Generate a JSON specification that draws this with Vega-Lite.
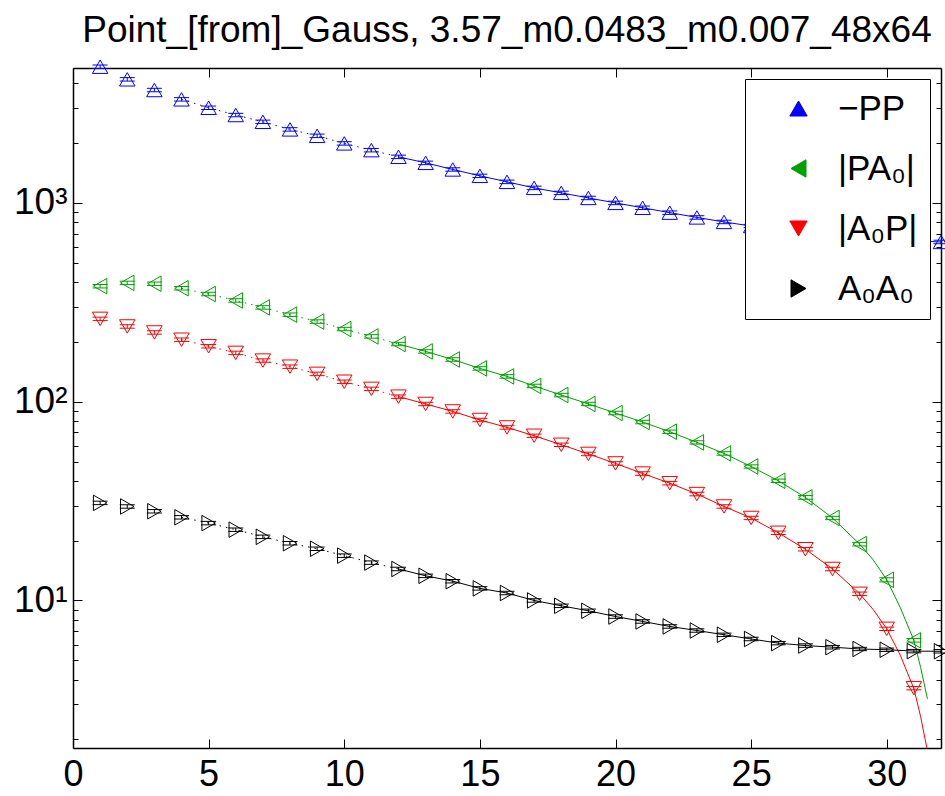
{
  "$schema": "https://vega.github.io/schema/vega-lite/v6.json",
  "width": 868,
  "height": 680,
  "autosize": {"type": "none"},
  "padding": {"left": 73, "top": 68, "right": 4, "bottom": 48},
  "title": {"text": "Point_[from]_Gauss, 3.57_m0.0483_m0.007_48x64", "fontSize": 37, "font": "Liberation Sans", "fontWeight": "normal", "anchor": "middle", "offset": 8, "color": "black"},
  "config": {
    "view": {"stroke": null},
    "font": "Liberation Sans",
    "legend": {
      "orient": "none", "legendX": 672, "legendY": 11, "direction": "vertical",
      "fillColor": "white", "strokeColor": "black", "padding": 12,
      "symbolOffset": 24, "labelOffset": 22, "labelFontSize": 35, "labelFont": "Liberation Sans",
      "labelColor": "black", "symbolSize": 300, "symbolStrokeWidth": 1, "symbolFillColor": "transparent",
      "rowPadding": 24, "title": null, "labelLimit": 400
    }
  },
  "datasets": {
    "pts": [
      {"s": "−PP", "x": 1, "y": 4842, "e": 97}, {"s": "−PP", "x": 2, "y": 4185, "e": 84}, {"s": "−PP", "x": 3, "y": 3697, "e": 74}, {"s": "−PP", "x": 4, "y": 3319, "e": 66},
      {"s": "−PP", "x": 5, "y": 3010, "e": 60}, {"s": "−PP", "x": 6, "y": 2767, "e": 55}, {"s": "−PP", "x": 7, "y": 2558, "e": 51}, {"s": "−PP", "x": 8, "y": 2343, "e": 47},
      {"s": "−PP", "x": 9, "y": 2175, "e": 44}, {"s": "−PP", "x": 10, "y": 1992, "e": 40}, {"s": "−PP", "x": 11, "y": 1842, "e": 37}, {"s": "−PP", "x": 12, "y": 1705, "e": 34},
      {"s": "−PP", "x": 13, "y": 1590, "e": 32}, {"s": "−PP", "x": 14, "y": 1473, "e": 29}, {"s": "−PP", "x": 15, "y": 1368, "e": 27}, {"s": "−PP", "x": 16, "y": 1276, "e": 26},
      {"s": "−PP", "x": 17, "y": 1190, "e": 24}, {"s": "−PP", "x": 18, "y": 1123, "e": 22}, {"s": "−PP", "x": 19, "y": 1059, "e": 21}, {"s": "−PP", "x": 20, "y": 1000, "e": 20},
      {"s": "−PP", "x": 21, "y": 945, "e": 19}, {"s": "−PP", "x": 22, "y": 893, "e": 18}, {"s": "−PP", "x": 23, "y": 845, "e": 17}, {"s": "−PP", "x": 24, "y": 802, "e": 16},
      {"s": "−PP", "x": 25, "y": 765, "e": 15}, {"s": "−PP", "x": 26, "y": 733, "e": 15}, {"s": "−PP", "x": 27, "y": 706, "e": 14}, {"s": "−PP", "x": 28, "y": 684, "e": 14},
      {"s": "−PP", "x": 29, "y": 667, "e": 13}, {"s": "−PP", "x": 30, "y": 654, "e": 13}, {"s": "−PP", "x": 31, "y": 644, "e": 13}, {"s": "−PP", "x": 32, "y": 636, "e": 13},
      {"s": "|PA₀|", "x": 1, "y": 381, "e": 7.6}, {"s": "|PA₀|", "x": 2, "y": 396, "e": 7.9}, {"s": "|PA₀|", "x": 3, "y": 392, "e": 7.8}, {"s": "|PA₀|", "x": 4, "y": 372, "e": 7.4},
      {"s": "|PA₀|", "x": 5, "y": 348, "e": 7.0}, {"s": "|PA₀|", "x": 6, "y": 323, "e": 6.5}, {"s": "|PA₀|", "x": 7, "y": 298, "e": 6.0}, {"s": "|PA₀|", "x": 8, "y": 274, "e": 5.5},
      {"s": "|PA₀|", "x": 9, "y": 253, "e": 5.1}, {"s": "|PA₀|", "x": 10, "y": 232, "e": 4.6}, {"s": "|PA₀|", "x": 11, "y": 213, "e": 4.3}, {"s": "|PA₀|", "x": 12, "y": 195, "e": 3.9},
      {"s": "|PA₀|", "x": 13, "y": 179, "e": 3.6}, {"s": "|PA₀|", "x": 14, "y": 163, "e": 3.3}, {"s": "|PA₀|", "x": 15, "y": 147, "e": 2.9}, {"s": "|PA₀|", "x": 16, "y": 134, "e": 2.7},
      {"s": "|PA₀|", "x": 17, "y": 120, "e": 2.4}, {"s": "|PA₀|", "x": 18, "y": 108, "e": 2.2}, {"s": "|PA₀|", "x": 19, "y": 97.4, "e": 1.9}, {"s": "|PA₀|", "x": 20, "y": 87.7, "e": 1.8},
      {"s": "|PA₀|", "x": 21, "y": 79, "e": 1.6}, {"s": "|PA₀|", "x": 22, "y": 70.6, "e": 1.4}, {"s": "|PA₀|", "x": 23, "y": 62.4, "e": 1.2}, {"s": "|PA₀|", "x": 24, "y": 54.9, "e": 1.1},
      {"s": "|PA₀|", "x": 25, "y": 47.2, "e": 0.9}, {"s": "|PA₀|", "x": 26, "y": 40, "e": 0.8}, {"s": "|PA₀|", "x": 27, "y": 33, "e": 0.7}, {"s": "|PA₀|", "x": 28, "y": 26, "e": 0.5},
      {"s": "|PA₀|", "x": 29, "y": 19.2, "e": 0.4}, {"s": "|PA₀|", "x": 30, "y": 12.7, "e": 0.3}, {"s": "|PA₀|", "x": 31, "y": 6.3, "e": 0.13},
      {"s": "|A₀P|", "x": 1, "y": 261, "e": 5.2}, {"s": "|A₀P|", "x": 2, "y": 239, "e": 4.8}, {"s": "|A₀P|", "x": 3, "y": 223, "e": 4.5}, {"s": "|A₀P|", "x": 4, "y": 205, "e": 4.1},
      {"s": "|A₀P|", "x": 5, "y": 190, "e": 3.8}, {"s": "|A₀P|", "x": 6, "y": 176, "e": 3.5}, {"s": "|A₀P|", "x": 7, "y": 161, "e": 3.2}, {"s": "|A₀P|", "x": 8, "y": 150, "e": 3.0},
      {"s": "|A₀P|", "x": 9, "y": 138, "e": 2.8}, {"s": "|A₀P|", "x": 10, "y": 126, "e": 2.5}, {"s": "|A₀P|", "x": 11, "y": 116, "e": 2.3}, {"s": "|A₀P|", "x": 12, "y": 106, "e": 2.1},
      {"s": "|A₀P|", "x": 13, "y": 97.4, "e": 1.9}, {"s": "|A₀P|", "x": 14, "y": 89.3, "e": 1.8}, {"s": "|A₀P|", "x": 15, "y": 80.9, "e": 1.6}, {"s": "|A₀P|", "x": 16, "y": 74.2, "e": 1.5},
      {"s": "|A₀P|", "x": 17, "y": 67.4, "e": 1.3}, {"s": "|A₀P|", "x": 18, "y": 60.7, "e": 1.2}, {"s": "|A₀P|", "x": 19, "y": 54.6, "e": 1.1}, {"s": "|A₀P|", "x": 20, "y": 48.9, "e": 1.0},
      {"s": "|A₀P|", "x": 21, "y": 43.5, "e": 0.9}, {"s": "|A₀P|", "x": 22, "y": 38.9, "e": 0.8}, {"s": "|A₀P|", "x": 23, "y": 34.3, "e": 0.7}, {"s": "|A₀P|", "x": 24, "y": 29.7, "e": 0.6},
      {"s": "|A₀P|", "x": 25, "y": 26, "e": 0.5}, {"s": "|A₀P|", "x": 26, "y": 21.9, "e": 0.44}, {"s": "|A₀P|", "x": 27, "y": 18.1, "e": 0.36}, {"s": "|A₀P|", "x": 28, "y": 14.4, "e": 0.29},
      {"s": "|A₀P|", "x": 29, "y": 10.8, "e": 0.22}, {"s": "|A₀P|", "x": 30, "y": 7.2, "e": 0.14}, {"s": "|A₀P|", "x": 31, "y": 3.62, "e": 0.07},
      {"s": "A₀A₀", "x": 1, "y": 30.96, "e": 0.62}, {"s": "A₀A₀", "x": 2, "y": 29.7, "e": 0.59}, {"s": "A₀A₀", "x": 3, "y": 28.1, "e": 0.56}, {"s": "A₀A₀", "x": 4, "y": 26.2, "e": 0.52},
      {"s": "A₀A₀", "x": 5, "y": 24.5, "e": 0.49}, {"s": "A₀A₀", "x": 6, "y": 22.7, "e": 0.45}, {"s": "A₀A₀", "x": 7, "y": 20.9, "e": 0.42}, {"s": "A₀A₀", "x": 8, "y": 19.4, "e": 0.39},
      {"s": "A₀A₀", "x": 9, "y": 18.2, "e": 0.36}, {"s": "A₀A₀", "x": 10, "y": 16.8, "e": 0.34}, {"s": "A₀A₀", "x": 11, "y": 15.5, "e": 0.31}, {"s": "A₀A₀", "x": 12, "y": 14.4, "e": 0.29},
      {"s": "A₀A₀", "x": 13, "y": 13.3, "e": 0.27}, {"s": "A₀A₀", "x": 14, "y": 12.5, "e": 0.25}, {"s": "A₀A₀", "x": 15, "y": 11.5, "e": 0.23}, {"s": "A₀A₀", "x": 16, "y": 10.9, "e": 0.22},
      {"s": "A₀A₀", "x": 17, "y": 10.0, "e": 0.2}, {"s": "A₀A₀", "x": 18, "y": 9.4, "e": 0.19}, {"s": "A₀A₀", "x": 19, "y": 8.87, "e": 0.18}, {"s": "A₀A₀", "x": 20, "y": 8.3, "e": 0.17},
      {"s": "A₀A₀", "x": 21, "y": 7.84, "e": 0.16}, {"s": "A₀A₀", "x": 22, "y": 7.4, "e": 0.15}, {"s": "A₀A₀", "x": 23, "y": 7.06, "e": 0.14}, {"s": "A₀A₀", "x": 24, "y": 6.72, "e": 0.13},
      {"s": "A₀A₀", "x": 25, "y": 6.4, "e": 0.13}, {"s": "A₀A₀", "x": 26, "y": 6.1, "e": 0.12}, {"s": "A₀A₀", "x": 27, "y": 5.93, "e": 0.12}, {"s": "A₀A₀", "x": 28, "y": 5.82, "e": 0.12},
      {"s": "A₀A₀", "x": 29, "y": 5.7, "e": 0.11}, {"s": "A₀A₀", "x": 30, "y": 5.65, "e": 0.11}, {"s": "A₀A₀", "x": 31, "y": 5.56, "e": 0.11}, {"s": "A₀A₀", "x": 32, "y": 5.55, "e": 0.11}
    ],
    "fit": [
      {"s": "−PP", "x": 12, "f": 1705}, {"s": "−PP", "x": 13, "f": 1590}, {"s": "−PP", "x": 14, "f": 1473}, {"s": "−PP", "x": 15, "f": 1368}, {"s": "−PP", "x": 16, "f": 1276},
      {"s": "−PP", "x": 17, "f": 1190}, {"s": "−PP", "x": 18, "f": 1123}, {"s": "−PP", "x": 19, "f": 1059}, {"s": "−PP", "x": 20, "f": 1000}, {"s": "−PP", "x": 21, "f": 945},
      {"s": "−PP", "x": 22, "f": 893}, {"s": "−PP", "x": 23, "f": 845}, {"s": "−PP", "x": 24, "f": 802}, {"s": "−PP", "x": 25, "f": 765}, {"s": "−PP", "x": 26, "f": 733},
      {"s": "−PP", "x": 27, "f": 706}, {"s": "−PP", "x": 28, "f": 684}, {"s": "−PP", "x": 29, "f": 667}, {"s": "−PP", "x": 30, "f": 654}, {"s": "−PP", "x": 31, "f": 644}, {"s": "−PP", "x": 32, "f": 636},
      {"s": "|PA₀|", "x": 12, "f": 195}, {"s": "|PA₀|", "x": 13, "f": 179}, {"s": "|PA₀|", "x": 14, "f": 163}, {"s": "|PA₀|", "x": 15, "f": 147}, {"s": "|PA₀|", "x": 16, "f": 134},
      {"s": "|PA₀|", "x": 17, "f": 120}, {"s": "|PA₀|", "x": 18, "f": 108}, {"s": "|PA₀|", "x": 19, "f": 97.4}, {"s": "|PA₀|", "x": 20, "f": 87.7}, {"s": "|PA₀|", "x": 21, "f": 79},
      {"s": "|PA₀|", "x": 22, "f": 70.6}, {"s": "|PA₀|", "x": 23, "f": 62.4}, {"s": "|PA₀|", "x": 24, "f": 54.9}, {"s": "|PA₀|", "x": 25, "f": 47.2}, {"s": "|PA₀|", "x": 26, "f": 40},
      {"s": "|PA₀|", "x": 27, "f": 33}, {"s": "|PA₀|", "x": 28, "f": 26}, {"s": "|PA₀|", "x": 29, "f": 19.2}, {"s": "|PA₀|", "x": 29.5, "f": 16}, {"s": "|PA₀|", "x": 30, "f": 12.7},
      {"s": "|PA₀|", "x": 30.5, "f": 9.2}, {"s": "|PA₀|", "x": 31, "f": 6.3}, {"s": "|PA₀|", "x": 31.25, "f": 4.6}, {"s": "|PA₀|", "x": 31.5, "f": 3.2},
      {"s": "|A₀P|", "x": 12, "f": 106}, {"s": "|A₀P|", "x": 13, "f": 97.4}, {"s": "|A₀P|", "x": 14, "f": 89.3}, {"s": "|A₀P|", "x": 15, "f": 80.9}, {"s": "|A₀P|", "x": 16, "f": 74.2},
      {"s": "|A₀P|", "x": 17, "f": 67.4}, {"s": "|A₀P|", "x": 18, "f": 60.7}, {"s": "|A₀P|", "x": 19, "f": 54.6}, {"s": "|A₀P|", "x": 20, "f": 48.9}, {"s": "|A₀P|", "x": 21, "f": 43.5},
      {"s": "|A₀P|", "x": 22, "f": 38.9}, {"s": "|A₀P|", "x": 23, "f": 34.3}, {"s": "|A₀P|", "x": 24, "f": 29.7}, {"s": "|A₀P|", "x": 25, "f": 26}, {"s": "|A₀P|", "x": 26, "f": 21.9},
      {"s": "|A₀P|", "x": 27, "f": 18.1}, {"s": "|A₀P|", "x": 28, "f": 14.4}, {"s": "|A₀P|", "x": 29, "f": 10.8}, {"s": "|A₀P|", "x": 29.5, "f": 9.0}, {"s": "|A₀P|", "x": 30, "f": 7.2},
      {"s": "|A₀P|", "x": 30.5, "f": 5.3}, {"s": "|A₀P|", "x": 31, "f": 3.6}, {"s": "|A₀P|", "x": 31.25, "f": 2.6}, {"s": "|A₀P|", "x": 31.5, "f": 1.75}, {"s": "|A₀P|", "x": 31.6, "f": 1.4},
      {"s": "A₀A₀", "x": 12, "f": 14.4}, {"s": "A₀A₀", "x": 13, "f": 13.3}, {"s": "A₀A₀", "x": 14, "f": 12.5}, {"s": "A₀A₀", "x": 15, "f": 11.5}, {"s": "A₀A₀", "x": 16, "f": 10.9},
      {"s": "A₀A₀", "x": 17, "f": 10.0}, {"s": "A₀A₀", "x": 18, "f": 9.4}, {"s": "A₀A₀", "x": 19, "f": 8.87}, {"s": "A₀A₀", "x": 20, "f": 8.3}, {"s": "A₀A₀", "x": 21, "f": 7.84},
      {"s": "A₀A₀", "x": 22, "f": 7.4}, {"s": "A₀A₀", "x": 23, "f": 7.06}, {"s": "A₀A₀", "x": 24, "f": 6.72}, {"s": "A₀A₀", "x": 25, "f": 6.4}, {"s": "A₀A₀", "x": 26, "f": 6.1},
      {"s": "A₀A₀", "x": 27, "f": 5.93}, {"s": "A₀A₀", "x": 28, "f": 5.82}, {"s": "A₀A₀", "x": 29, "f": 5.7}, {"s": "A₀A₀", "x": 30, "f": 5.65}, {"s": "A₀A₀", "x": 31, "f": 5.56}, {"s": "A₀A₀", "x": 32, "f": 5.55}
    ]
  },
  "layer": [
    {
      "data": {"name": "pts"},
      "mark": {"type": "point", "opacity": 0},
      "encoding": {
        "x": {"field": "x", "type": "quantitative", "scale": {"domain": [0, 32], "nice": false, "zero": false},
          "axis": {"orient": "bottom", "values": [0, 5, 10, 15, 20, 25, 30], "title": null, "grid": false, "tickSize": -9, "tickColor": "black", "tickWidth": 1,
            "domainColor": "black", "domainWidth": 1.5, "labelFontSize": 36, "labelFont": "Liberation Sans", "labelColor": "black", "labelPadding": 18, "labelFlush": false, "labelOverlap": false}},
        "y": {"field": "y", "type": "quantitative", "scale": {"type": "log", "domain": [1.81, 4771], "nice": false},
          "axis": {"orient": "left", "values": [2, 3, 4, 5, 6, 7, 8, 9, 10, 20, 30, 40, 50, 60, 70, 80, 90, 100, 200, 300, 400, 500, 600, 700, 800, 900, 1000, 2000, 3000, 4000],
            "labelExpr": "datum.value == 10 ? '10¹' : datum.value == 100 ? '10²' : datum.value == 1000 ? '10³' : ''",
            "title": null, "grid": false, "tickSize": {"condition": {"test": "datum.value == 10 || datum.value == 100 || datum.value == 1000", "value": -9}, "value": -5},
            "tickColor": "black", "tickWidth": 1, "domainColor": "black", "domainWidth": 1.5, "labelFontSize": 37, "labelFont": "Liberation Sans", "labelColor": "black",
            "labelPadding": 15, "labelOverlap": false}}
      }
    },
    {
      "data": {"name": "pts"},
      "mark": {"type": "point", "opacity": 0},
      "encoding": {
        "x": {"field": "x", "type": "quantitative",
          "axis": {"orient": "top", "values": [0, 5, 10, 15, 20, 25, 30], "title": null, "grid": false, "labels": false, "tickSize": -9, "tickColor": "black", "tickWidth": 1, "domainColor": "black", "domainWidth": 1.5}},
        "y": {"field": "y", "type": "quantitative",
          "axis": {"orient": "right", "values": [2, 3, 4, 5, 6, 7, 8, 9, 10, 20, 30, 40, 50, 60, 70, 80, 90, 100, 200, 300, 400, 500, 600, 700, 800, 900, 1000, 2000, 3000, 4000],
            "title": null, "grid": false, "labels": false, "tickSize": {"condition": {"test": "datum.value == 10 || datum.value == 100 || datum.value == 1000", "value": -9}, "value": -5},
            "tickColor": "black", "tickWidth": 1, "domainColor": "black", "domainWidth": 1.5}}
      }
    },
    {
      "data": {"name": "pts"},
      "mark": {"type": "point", "filled": false, "size": 240, "strokeWidth": 1, "opacity": 1},
      "encoding": {
        "x": {"field": "x", "type": "quantitative", "axis": null},
        "y": {"field": "y", "type": "quantitative", "axis": null},
        "color": {"field": "s", "type": "nominal", "scale": {"domain": ["−PP", "|PA₀|", "|A₀P|", "A₀A₀"], "range": ["#0000ff", "#00a000", "#ff0000", "#000000"]}},
        "shape": {"field": "s", "type": "nominal", "scale": {"domain": ["−PP", "|PA₀|", "|A₀P|", "A₀A₀"], "range": ["triangle-up", "triangle-left", "triangle-down", "triangle-right"]}}
      }
    },
    {
      "data": {"name": "pts"},
      "transform": [{"filter": "datum.x >= 4 && datum.x <= 12"}],
      "mark": {"type": "line", "strokeWidth": 1, "strokeDash": [1.5, 5], "clip": true},
      "encoding": {
        "x": {"field": "x", "type": "quantitative", "axis": null},
        "y": {"field": "y", "type": "quantitative", "axis": null},
        "color": {"field": "s", "type": "nominal"},
        "detail": {"field": "s"}
      }
    },
    {
      "data": {"name": "fit"},
      "mark": {"type": "line", "strokeWidth": 1, "clip": true},
      "encoding": {
        "x": {"field": "x", "type": "quantitative", "axis": null},
        "y": {"field": "f", "type": "quantitative", "axis": null},
        "color": {"field": "s", "type": "nominal"},
        "detail": {"field": "s"}
      }
    },
    {
      "data": {"name": "pts"},
      "mark": {"type": "errorbar", "ticks": {"size": 15, "opacity": 1, "thickness": 1}, "rule": {"strokeWidth": 1}},
      "encoding": {
        "x": {"field": "x", "type": "quantitative", "axis": null},
        "y": {"field": "y", "type": "quantitative", "axis": null},
        "yError": {"field": "e"},
        "color": {"field": "s", "type": "nominal"}
      }
    }
  ],
  "resolve": {"axis": {"x": "independent", "y": "independent"}}
}
